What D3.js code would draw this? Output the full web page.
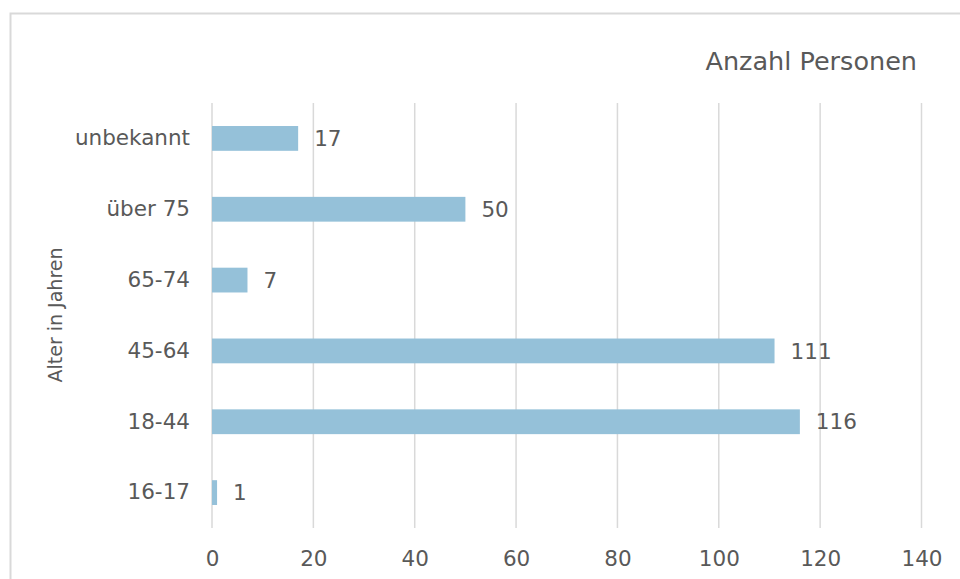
<!DOCTYPE html>
<html>
<head>
<meta charset="utf-8">
<script src="https://cdn.jsdelivr.net/npm/d3@7"></script>
<style>
  body { margin: 0; background: #fff; }
  svg text { font-family: "DejaVu Sans", Verdana, sans-serif; fill: #595959; }
</style>
</head>
<body>
<div id="chart"></div>
<script>
var categories = ["unbekannt", "über 75", "65-74", "45-64", "18-44", "16-17"];
var values = [17, 50, 7, 111, 116, 1];
var tickValues = [0, 20, 40, 60, 80, 100, 120, 140];
var xTitle = "Anzahl Personen";
var yTitle = "Alter in Jahren";

var width = 960, height = 579;
var svg = d3.select("#chart").append("svg")
  .attr("width", width).attr("height", height);

// chart frame (runs off right/bottom edge like the reference)
svg.append("rect")
  .attr("x", 10.5).attr("y", 13.5)
  .attr("width", 980).attr("height", 600)
  .attr("fill", "#fff")
  .attr("stroke", "#d9d9d9").attr("stroke-width", 2);

var x = d3.scaleLinear().domain([0, 140]).range([212, 921.5]);
var y = d3.scaleBand().domain(categories).range([103, 528]).paddingInner(0.65).paddingOuter(0.325);

var g = svg.append("g");

// vertical gridlines
g.selectAll("line.grid")
  .data(tickValues)
  .enter().append("line")
  .attr("class", "grid")
  .attr("x1", function(d) { return x(d); })
  .attr("x2", function(d) { return x(d); })
  .attr("y1", 103).attr("y2", 528)
  .attr("stroke", "#d9d9d9").attr("stroke-width", 1.5);

// x axis labels
var xAxis = d3.axisBottom(x).tickValues(tickValues).tickSize(0).tickPadding(0);
var xa = g.append("g").attr("transform", "translate(0,551)").call(xAxis);
xa.select(".domain").remove();
xa.selectAll("text")
  .attr("fill", "#595959")
  .style("font-size", "21.5px")
  .style("font-family", "'DejaVu Sans', Verdana, sans-serif");

// y axis labels
var yAxis = d3.axisLeft(y).tickSize(0).tickPadding(22);
var ya = g.append("g").attr("transform", "translate(212,0)").call(yAxis);
ya.select(".domain").remove();
ya.selectAll("text")
  .attr("fill", "#595959")
  .style("font-size", "21.5px")
  .style("font-family", "'DejaVu Sans', Verdana, sans-serif");

// bars
g.selectAll("rect.bar")
  .data(values)
  .enter().append("rect")
  .attr("class", "bar")
  .attr("x", x(0))
  .attr("y", function(d, i) { return y(categories[i]); })
  .attr("width", function(d) { return x(d) - x(0); })
  .attr("height", y.bandwidth())
  .attr("fill", "#95c1d9");

// value labels
g.selectAll("text.val")
  .data(values)
  .enter().append("text")
  .attr("class", "val")
  .attr("x", function(d) { return x(d) + 16; })
  .attr("y", function(d, i) { return y(categories[i]) + y.bandwidth() / 2; })
  .attr("dy", "0.36em")
  .style("font-size", "21.5px")
  .attr("fill", "#404040")
  .text(function(d) { return d; });

// axis titles
svg.append("text")
  .attr("x", 917).attr("y", 70)
  .attr("text-anchor", "end")
  .style("font-size", "25.5px")
  .text(xTitle);

svg.append("text")
  .attr("transform", "translate(62,315) rotate(-90)")
  .attr("text-anchor", "middle")
  .style("font-size", "19px")
  .text(yTitle);
</script>
</body>
</html>
